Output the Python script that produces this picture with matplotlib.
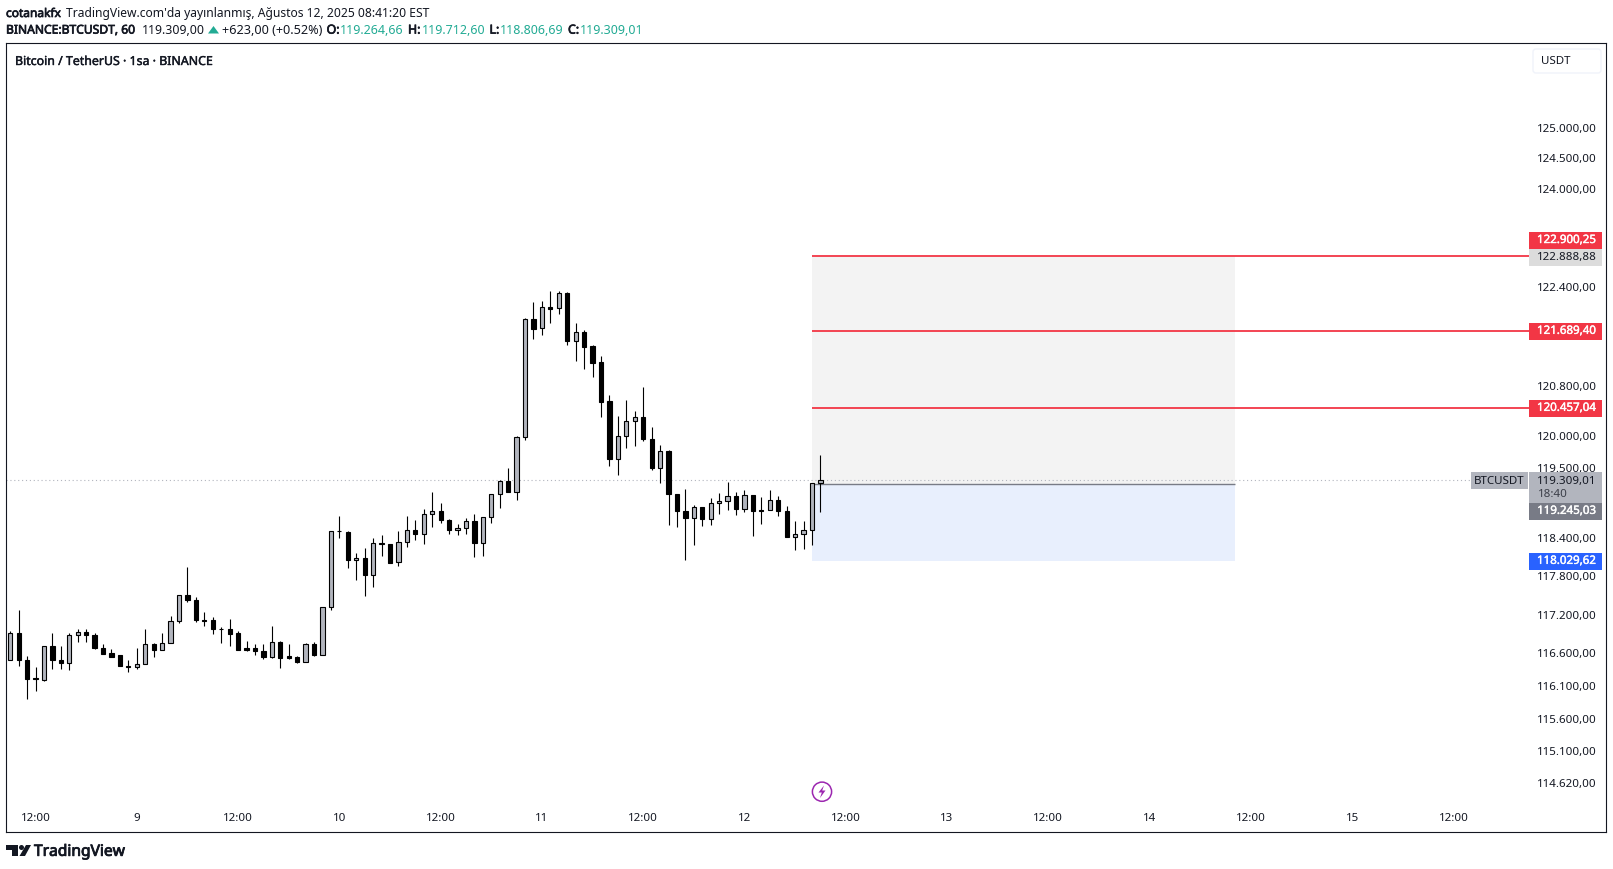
import matplotlib
matplotlib.use("Agg")
import matplotlib.pyplot as plt
import matplotlib.patheffects as pe
from matplotlib.patches import Rectangle, Polygon, Circle, FancyBboxPatch
from matplotlib.transforms import IdentityTransform
from matplotlib.ticker import FixedLocator, NullLocator, FixedFormatter

opens = [116502,116918,116502,116215,116190,116718,116502,116456,116888,116934,
 116893,116692,116600,116569,116410,116395,116441,116754,116656,116765,
 117105,117508,117430,117125,117120,116986,116981,116909,116677,116677,
 116641,116548,116785,116554,116548,116471,116749,116579,117322,
 118513,118497,118049,118091,117820,118320,118309,118018,118335,118523,118461,
 118774,118821,118680,118523,118555,118664,118315,118727,119089,119299,
 119120,119989,121877,121732,122071,122055,122297,121534,121668,121448,
 121191,120567,119641,120005,120244,120307,119958,119498,119767,119088,
 118821,118705,118884,118689,118946,118978,119057,118852,119072,118836,
 118831,118994,118821,118413,118455,118517,119264.66]
highs = [116955,117280,116554,116384,116723,116909,116723,116909,116986,116986,
 116924,116754,116662,116569,116492,116692,116986,116765,116909,117187,
 117508,117949,117482,117249,117172,117017,117141,116955,116800,116739,
 116739,117032,116795,116754,116554,116765,116780,117322,118507,
 118748,118508,118169,118247,118403,118450,118309,118513,118748,118685,118858,
 119125,118952,118690,118623,118711,118780,118727,119089,119309,119504,
 120006,121899,122157,122173,122335,122335,122313,121818,121705,121464,
 121287,120663,120328,120583,120408,120791,120154,119868,119789,119088,
 119172,118920,118889,119025,119109,119283,119125,119156,119078,119046,
 119156,119062,118905,118669,118669,119262,119712.60]
lows = [116502,116405,115898,116021,116174,116359,116359,116343,116775,116775,
 116667,116590,116543,116405,116313,116359,116441,116543,116656,116765,
 117069,117394,117094,117022,116898,116759,116713,116651,116636,116574,
 116513,116528,116374,116513,116451,116466,116559,116579,117270,
 118393,117924,117748,117489,117628,118122,118013,117955,118252,118372,118309,
 118575,118638,118466,118450,118466,118096,118111,118628,118874,119115,
 118989,119947,121560,121625,121818,121963,121464,121213,121084,120951,
 120302,119535,119393,119820,119852,119931,119472,119267,118606,118575,
 118059,118293,118590,118606,118779,118842,118763,118810,118434,118622,
 118831,118747,118408,118215,118230,118293,118806.69]
closes = [116918,116496,116204,116204,116717,116496,116450,116887,116934,116882,
 116681,116589,116553,116404,116388,116440,116748,116650,116764,117104,
 117507,117424,117114,117109,116975,116975,116898,116650,116650,116635,
 116542,116779,116527,116527,116465,116748,116573,117321,118506,118501,
 118047,118084,117813,118318,118298,118011,118334,118522,118454,118773,
 118820,118674,118517,118553,118663,118313,118726,119088,119293,119114,
 119989,121877,121726,122070,122049,122296,121533,121667,121437,121180,
 120556,119635,120005,120243,120307,119952,119493,119767,119082,118815,
 118705,118883,118689,118946,118978,119056,118846,119072,118815,118815,
 118993,118815,118407,118459,118522,119261,119309.01]

price_ticks = [125000,124500,124000,122400,120800,120000,119500,118400,117800,
               117200,116600,116100,115600,115100,114620]
time_positions = [3,15,27,39,51,63,75,87,99,111,123,135,147,159,171]
time_labels = ["12:00","9","12:00","10","12:00","11","12:00","12","12:00","13","12:00","14","12:00","15","12:00"]
last_price = 119309.01
entry = 119245.03
stop = 118029.62
target_top = 122888.88
targets = [122900.25, 121689.40, 120457.04]

W, H = 1613, 869
FONT = "Noto Sans"
plt.rcParams["font.family"] = [FONT, "DejaVu Sans"]
DARK = "#131722"
UP = "#b2b5be"
RED = "#f23645"
TEAL = "#22ab94"

def fmt(v):
    return f"{v:,.2f}".replace(",", "X").replace(".", ",").replace("X", ".")

fig = plt.figure(figsize=(W / 100, H / 100), dpi=100, facecolor="white")
L, R, T, B = 6.0, 1606.0, 43.0, 832.0
ax = fig.add_axes([L / W, 1 - B / H, (R - L) / W, (B - T) / H])
ax.set_yscale("log")
ax.set_ylim(113875.5, 126419)
x0, dx = 10.2, 8.44
ax.set_xlim((L - x0) / dx, (R - x0) / dx)
xi = lambda px: (px - x0) / dx

ax.yaxis.tick_right()
ax.yaxis.set_major_locator(FixedLocator(price_ticks))
ax.yaxis.set_major_formatter(FixedFormatter([fmt(v) for v in price_ticks]))
ax.yaxis.set_minor_locator(NullLocator())
ax.tick_params(axis="y", which="major", length=0, pad=-6.8, labelsize=8.3, labelcolor=DARK)
for t in ax.get_yticklabels():
    t.set_ha("right")
ax.set_xticks(time_positions)
ax.set_xticklabels(time_labels)
ax.tick_params(axis="x", length=0, pad=-13.6, labelsize=8.3, labelcolor=DARK)
for s in ax.spines.values():
    s.set_color(DARK)
    s.set_linewidth(0.8)

# position tool
bl, br = xi(812), xi(1235)
ax.fill_between([bl, br], entry, target_top, color="#f3f3f3", lw=0, zorder=1)
ax.fill_between([bl, br], stop, entry, color="#e8effd", lw=0, zorder=1)
ax.hlines(entry, bl, br, color="#787b86", lw=1.0, zorder=2)
ax.hlines(targets, bl, xi(1529), color=RED, lw=1.3, zorder=2)
ax.hlines(last_price, xi(L), xi(1471), color=UP, lw=0.8, linestyles=(0, (1, 2.5)), zorder=2)

# candles
idx = list(range(len(opens)))
ax.vlines(idx, lows, highs, color="black", lw=0.8, zorder=3)
bottoms = [min(o, c) for o, c in zip(opens, closes)]
heights = [abs(c - o) for o, c in zip(opens, closes)]
colors = [UP if c >= o else "black" for o, c in zip(opens, closes)]
ax.bar(idx, heights, bottom=bottoms, width=0.5, color=colors, edgecolor="black", lw=0.8, zorder=4)

ident = IdentityTransform()
def ptext(x, y, s, heavy=0, **kw):
    kw.setdefault("color", DARK)
    kw.setdefault("va", "center")
    kw.setdefault("fontsize", 8.9)
    t = fig.text(x, H - y - 0.8, s, transform=ident, **kw)
    if heavy:
        t.set_path_effects([pe.withStroke(linewidth=heavy, foreground=kw["color"])])
def pbox(x0_, y0_, x1_, y1_, c):
    fig.add_artist(Rectangle((x0_, H - y1_), x1_ - x0_, y1_ - y0_, transform=ident, fc=c, ec="none", zorder=5))

# right-hand price labels
lab = [(232, 249, RED, "white", targets[0]), (249, 265.7, "#dcdcdc", DARK, target_top),
       (323, 339.7, RED, "white", targets[1]), (400, 416.7, RED, "white", targets[2]),
       (503, 519.7, "#787b86", "white", entry), (553, 569.7, "#2962ff", "white", stop)]
for y0_, y1_, c, tc, v in lab:
    pbox(1529, y0_, 1601.7, y1_, c)
    ptext(1596.5, (y0_ + y1_) / 2 - 0.8, fmt(v), heavy=0.3 if tc == "white" else 0,
          ha="right", color=tc, fontsize=8.3, zorder=6)
pbox(1529, 472, 1601.7, 502.7, UP)
ptext(1596.5, 480.3, fmt(last_price), ha="right", fontsize=8.3, zorder=6)
ptext(1537.7, 493.7, "18:40", ha="left", fontsize=8.3, color="#3b3e48", zorder=6)
pbox(1471, 472, 1528, 488.7, UP)
ptext(1499.5, 480.3, "BTCUSDT", ha="center", fontsize=8.3, zorder=6)

# USDT button
fig.add_artist(FancyBboxPatch((1533, H - 73), 68, 24, boxstyle="round,pad=0,rounding_size=3",
                              transform=ident, fc="white", ec="#f0f3fa", lw=1, zorder=5))
ptext(1541, 61, "USDT", ha="left", fontsize=8.3, zorder=6)

# header
ptext(6, 12.7, "cotanakfx", heavy=0.5, fontsize=8.6)
ptext(66.5, 12.7, "TradingView.com'da yayınlanmış, Ağustos 12, 2025 08:41:20 EST", fontsize=8.72)
ptext(6, 29.3, "BINANCE:BTCUSDT, 60", heavy=0.5, fontsize=8.7)
ptext(142, 29.3, "119.309,00")
fig.add_artist(Polygon([(208, H - 33.5), (219, H - 33.5), (213.5, H - 26)], transform=ident, fc=TEAL, ec="none"))
ptext(222, 29.3, "+623,00 (+0.52%)", fontsize=9.1)
for px, name, vx, v in [(326.6, "O:", 340, opens[-1]), (408, "H:", 421.7, highs[-1]),
                        (489.5, "L:", 500, lows[-1]), (568, "C:", 580, closes[-1])]:
    ptext(px, 29.3, name, heavy=0.5)
    ptext(vx, 29.3, fmt(v), color=TEAL, fontsize=9.0)
ptext(15, 60.7, "Bitcoin / TetherUS · 1sa · BINANCE", heavy=0.3, zorder=6)

# footer logo
fig.add_artist(Polygon([(6, H-845), (18, H-845), (18, H-856), (12, H-856), (12, H-850), (6, H-850)], transform=ident, fc=DARK, ec="none"))
fig.add_artist(Circle((21.5, H-847.5), 2.5, transform=ident, fc=DARK, ec="none"))
fig.add_artist(Polygon([(26, H-845), (31, H-845), (25, H-856), (19.5, H-856)], transform=ident, fc=DARK, ec="none"))
ptext(34, 851, "TradingView", heavy=0.6, fontsize=11.2, ha="left")

# lightning marker
fig.add_artist(Circle((822, H-791.7), 9.6, transform=ident, fc="white", ec="#9c27b0", lw=1.1, zorder=6))
fig.add_artist(Polygon([(824, H-785.5), (818.5, H-792.5), (821.8, H-792.5), (820, H-798), (825.5, H-790.5), (822.2, H-790.5)],
                       transform=ident, fc="#9c27b0", ec="none", zorder=7))

fig.savefig("out.png", dpi=100, facecolor="white")
